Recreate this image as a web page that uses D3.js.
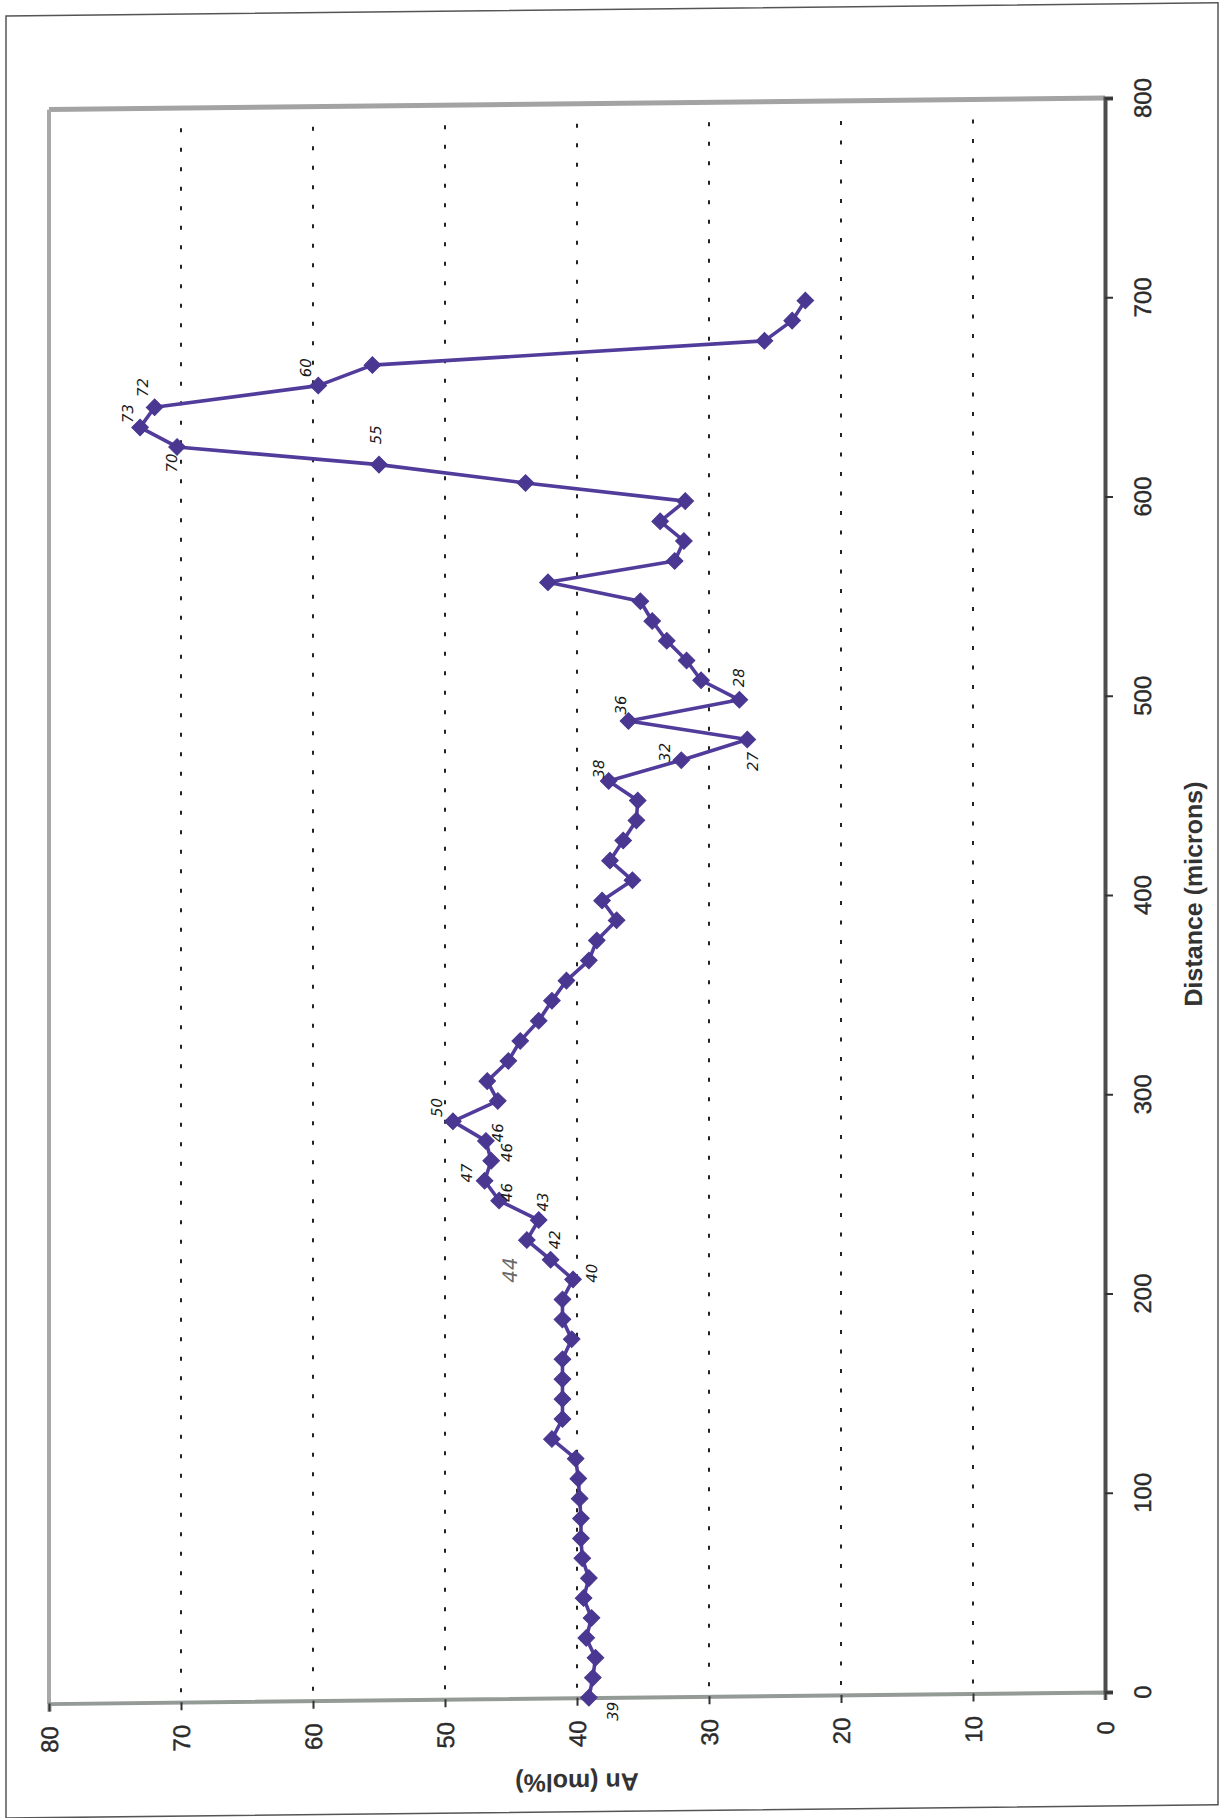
<!DOCTYPE html>
<html>
<head>
<meta charset="utf-8">
<script src="https://cdn.jsdelivr.net/npm/d3@7/dist/d3.min.js"></script>
<style>
  body { margin: 0; background: #fff; }
</style>
</head>
<body>
<div id="chart"></div>
<script>
// profile data: distance (microns) vs An (mol%)
var distance = [
  0, 10, 20, 30, 40, 50, 60, 70, 80, 90,
  100, 110, 120, 130, 140, 150, 160, 170, 180, 190,
  200, 210, 220, 230, 240, 250, 260, 270, 280, 290,
  300, 310, 320, 330, 340, 350, 360, 370, 380, 390,
  400, 410, 420, 430, 440, 450, 460, 470, 480, 490,
  500, 510, 520, 530, 540, 550, 560, 570, 580, 590,
  600, 610, 620, 630, 640, 650, 660, 670, 680, 690,
  700
];
var anMol = [
  39.1, 38.8, 38.6, 39.3, 38.9, 39.5, 39.1, 39.6, 39.7, 39.7,
  39.8, 39.9, 40.1, 41.9, 41.1, 41.1, 41.1, 41.1, 40.4, 41.1,
  41.1, 40.3, 42.0, 43.8, 42.9, 45.9, 47.0, 46.5, 46.9, 49.4,
  46.0, 46.8, 45.2, 44.3, 42.9, 41.9, 40.8, 39.1, 38.5, 37.0,
  38.1, 35.8, 37.5, 36.5, 35.5, 35.4, 37.6, 32.1, 27.1, 36.1,
  27.7, 30.6, 31.7, 33.2, 34.3, 35.2, 42.2, 32.6, 31.9, 33.7,
  31.8, 43.9, 55.0, 70.3, 73.1, 72.0, 59.6, 55.5, 25.8, 23.7,
  22.7
];
var anTicks = [0, 10, 20, 30, 40, 50, 60, 70, 80];
var distTicks = [0, 100, 200, 300, 400, 500, 600, 700, 800];

// pen notes written on the printout
var noteText = ["39", "40", "42", "43", "46", "47", "46", "46", "50", "38", "32", "27", "36", "28", "55", "60", "72", "73", "70"];
var noteDist = [-7, 213, 230, 249, 254, 264, 274, 284, 297, 466, 474, 469, 498, 511, 635, 669, 660, 647, 622];
var noteAn   = [37.3, 38.9, 41.7, 42.6, 45.3, 48.3, 45.3, 46.0, 50.6, 38.3, 33.3, 26.7, 36.7, 27.7, 55.2, 60.5, 72.9, 74.0, 70.7];
var pencilNote = { text: "44", dist: 215, an: 45.1 };

var W = 1225, H = 1818;
var fontFamily = "'Liberation Sans', Arial, sans-serif";
var purple = "#523c9b";

var svg = d3.select("#chart")
  .append("svg")
  .attr("width", W)
  .attr("height", H);

// the scan is slightly skewed
var page = svg.append("g")
  .attr("transform", "translate(1105,0) skewY(-0.63) translate(-1105,0)");

page.append("rect")
  .attr("x", 6).attr("y", 4)
  .attr("width", 1212).attr("height", 1802)
  .attr("fill", "none")
  .attr("stroke", "#555")
  .attr("stroke-width", 1.5);

var x = d3.scaleLinear().domain([0, 80]).range([1105, 49]);
var y = d3.scaleLinear().domain([0, 800]).range([1692, 98]);

// grid lines
page.selectAll("line.grid")
  .data(anTicks.filter(function (t) { return t > 0 && t < 80; }))
  .enter()
  .append("line")
  .attr("class", "grid")
  .attr("x1", function (d) { return x(d); })
  .attr("x2", function (d) { return x(d); })
  .attr("y1", y(800) + 20)
  .attr("y2", y(0))
  .attr("stroke", "#222")
  .attr("stroke-width", 2)
  .attr("stroke-dasharray", "4,15.5");

// plot area border (top and left)
page.append("line")
  .attr("x1", x(80)).attr("x2", x(0))
  .attr("y1", y(800)).attr("y2", y(800))
  .attr("stroke", "#a3a3a3").attr("stroke-width", 5);
page.append("line")
  .attr("x1", x(80)).attr("x2", x(80))
  .attr("y1", y(800)).attr("y2", y(0))
  .attr("stroke", "#a8a8a8").attr("stroke-width", 4);

// An axis (bottom)
var anAxis = page.append("g")
  .attr("transform", "translate(0," + y(0) + ")")
  .call(d3.axisBottom(x).tickValues(anTicks).tickSize(8).tickFormat(d3.format("d")));
anAxis.select(".domain").attr("stroke", "#949a96").attr("stroke-width", 4);
anAxis.selectAll(".tick line").attr("stroke", "#333").attr("stroke-width", 2);
anAxis.selectAll(".tick text")
  .attr("y", 0).attr("dy", null)
  .attr("transform", "translate(0,36) rotate(-90)")
  .attr("text-anchor", "middle")
  .attr("dominant-baseline", "central")
  .attr("font-family", fontFamily)
  .attr("font-size", 24)
  .attr("fill", "#2b2b2b")
  .attr("stroke", "#2b2b2b")
  .attr("stroke-width", 0.4);

// distance axis (right)
var distAxis = page.append("g")
  .attr("transform", "translate(" + x(0) + ",0)")
  .call(d3.axisRight(y).tickValues(distTicks).tickSize(8).tickFormat(d3.format("d")));
distAxis.select(".domain").attr("stroke", "#4d4d4d").attr("stroke-width", 4);
distAxis.selectAll(".tick line").attr("stroke", "#333").attr("stroke-width", 2);
distAxis.selectAll(".tick text")
  .attr("x", 0).attr("dy", null)
  .attr("transform", "translate(38,0) rotate(-90)")
  .attr("text-anchor", "middle")
  .attr("dominant-baseline", "central")
  .attr("font-family", fontFamily)
  .attr("font-size", 24)
  .attr("fill", "#2b2b2b")
  .attr("stroke", "#2b2b2b")
  .attr("stroke-width", 0.4);

// axis titles
page.append("text")
  .attr("transform", "translate(1193," + y(400) + ") rotate(-90)")
  .attr("text-anchor", "middle")
  .attr("dominant-baseline", "central")
  .attr("font-family", fontFamily)
  .attr("font-weight", "bold")
  .attr("font-size", 25)
  .attr("fill", "#333")
  .text("Distance (microns)");

page.append("text")
  .attr("transform", "translate(" + x(40) + ",1777) rotate(180)")
  .attr("text-anchor", "middle")
  .attr("dominant-baseline", "central")
  .attr("font-family", fontFamily)
  .attr("font-weight", "bold")
  .attr("font-size", 25)
  .attr("fill", "#333")
  .text("An (mol%)");

// profile line and markers
var points = distance.map(function (d, i) { return { d: d, an: anMol[i] }; });

var line = d3.line()
  .x(function (p) { return x(p.an); })
  .y(function (p) { return y(p.d); });

page.append("path")
  .datum(points)
  .attr("d", line)
  .attr("fill", "none")
  .attr("stroke", purple)
  .attr("stroke-width", 3.6)
  .attr("stroke-linejoin", "round");

var diamond = d3.symbol().type(d3.symbolSquare).size(138);

page.selectAll("path.marker")
  .data(points)
  .enter()
  .append("path")
  .attr("class", "marker")
  .attr("d", diamond)
  .attr("transform", function (p) {
    return "translate(" + x(p.an) + "," + y(p.d) + ") rotate(45)";
  })
  .attr("fill", "#4a3791")
  .attr("stroke", "#4a3791")
  .attr("stroke-width", 1);

// handwritten notes
page.selectAll("text.note")
  .data(noteText)
  .enter()
  .append("text")
  .attr("class", "note")
  .attr("transform", function (t, i) {
    return "translate(" + x(noteAn[i]) + "," + y(noteDist[i]) + ") rotate(-90)";
  })
  .attr("text-anchor", "middle")
  .attr("dominant-baseline", "central")
  .attr("font-family", "'DejaVu Sans', sans-serif")
  .attr("font-style", "italic")
  .attr("font-size", 15)
  .attr("fill", "#1a1a1a")
  .text(function (t) { return t; });

page.append("text")
  .attr("transform", "translate(" + x(pencilNote.an) + "," + y(pencilNote.dist) + ") rotate(-90)")
  .attr("text-anchor", "middle")
  .attr("dominant-baseline", "central")
  .attr("font-family", "'DejaVu Sans', sans-serif")
  .attr("font-style", "italic")
  .attr("font-size", 20)
  .attr("fill", "#6a6a6a")
  .text(pencilNote.text);
</script>
</body>
</html>
